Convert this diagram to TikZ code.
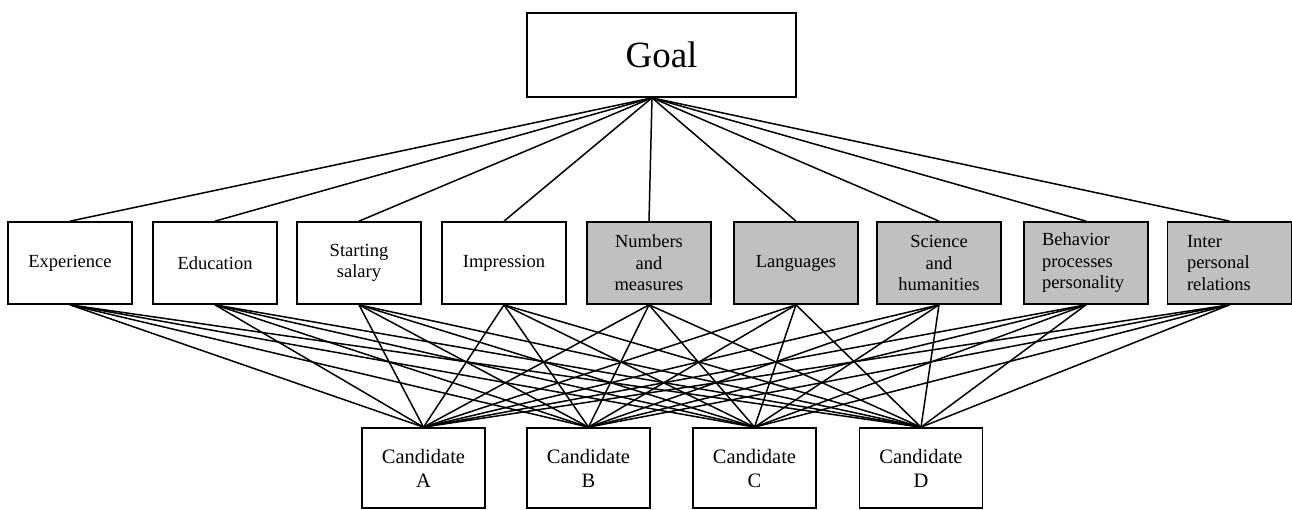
\documentclass[tikz,border=0pt]{standalone}
\usepackage{fontspec}
\setmainfont{Liberation Serif}
\definecolor{boxgray}{RGB}{192,192,192}
\tikzset{
  box/.style={draw, line width=1.7pt, inner sep=0pt, align=center},
  midbox/.style={box, minimum width=124pt, minimum height=82pt, font=\fontsize{18.5}{21.5}\selectfont},
  graybox/.style={midbox, fill=boxgray},
  leftbox/.style={graybox, align=left, inner xsep=18pt},
  candbox/.style={box, minimum width=123pt, minimum height=80pt, font=\fontsize{20.5}{24}\selectfont},
  goalbox/.style={box, minimum width=269pt, minimum height=84pt, font=\fontsize{37}{40}\selectfont},
  link/.style={line width=1.5pt}
}
\begin{document}
\begin{tikzpicture}[x=1pt, y=-1pt]
\useasboundingbox[fill=white] (0,0) rectangle (1292,510);
% goal
\node[goalbox] (goal) at (661.5,55) {Goal};
\coordinate (gs) at ([xshift=-9.5pt]goal.south);
% criteria
\node[midbox] (m1) at (70,263) {Experience};
\node[midbox] (m2) at (215,263) {Education};
\node[midbox] (m3) at (359,263) {Starting\\salary};
\node[midbox] (m4) at (504,263) {Impression};
\node[graybox] (m5) at (649,263) {Numbers\\and\\measures};
\node[graybox] (m6) at (796,263) {Languages};
\node[graybox] (m7) at (939,263) {Science\\and\\humanities};
\node[leftbox, text width=88pt] (m8) at (1086,263) {Behavior\\processes\\personality};
\node[leftbox, text width=85pt] (m9) at (1229.5,263) {Inter\\personal\\relations};
% candidates
\node[candbox] (ca) at (423.5,468) {Candidate\\A};
\node[candbox] (cb) at (588.5,468) {Candidate\\B};
\node[candbox] (cc) at (754.5,468) {Candidate\\C};
\node[candbox] (cd) at (921,468) {Candidate\\D};
% connectors
\foreach \m in {m1,m2,m3,m4,m5,m6,m7,m8,m9}{
  \draw[link] (gs) -- (\m.north);
  \foreach \c in {ca,cb,cc,cd}{
    \draw[link] (\m.south) -- (\c.north);
  }
}
\end{tikzpicture}
\end{document}
